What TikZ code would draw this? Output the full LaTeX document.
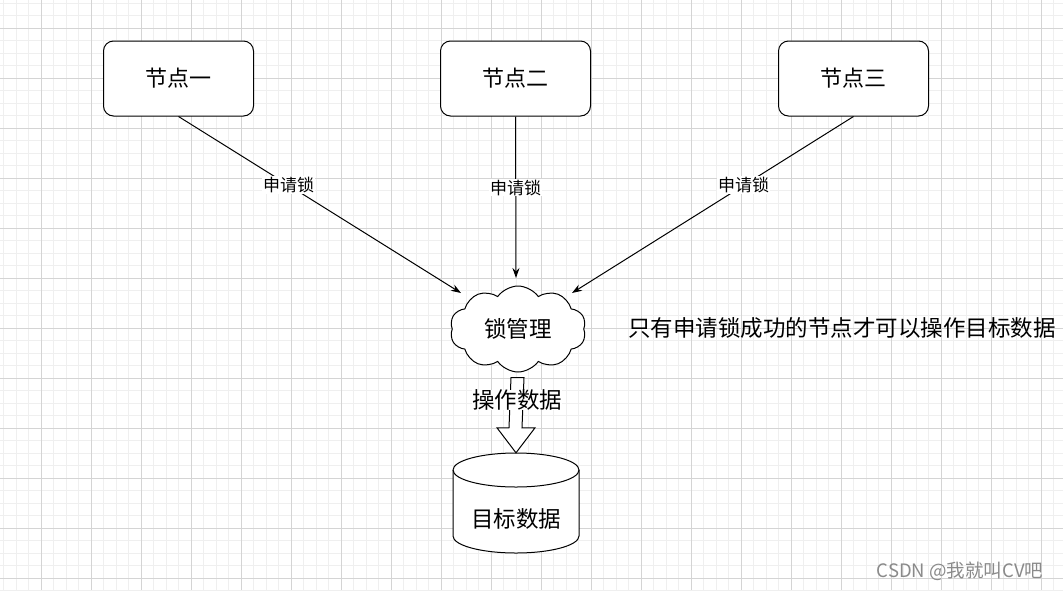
\documentclass[tikz,border=0pt]{standalone}
\usepackage{fontspec}
\setmainfont{Noto Sans CJK SC}
\usetikzlibrary{shapes.symbols,arrows.meta,calc}
\definecolor{gridminor}{HTML}{EFEFEF}
\definecolor{gridmajor}{HTML}{D4D4D4}
\definecolor{wm}{HTML}{8A8A8A}
\tikzset{
  nodebox/.style={draw=black,line width=1pt,rounded corners=10pt,fill=white,minimum width=150pt,minimum height=75pt,font=\fontsize{22}{26}\selectfont},
  conn/.style={draw=black,line width=1pt,-{Stealth[length=10pt,width=7pt]}},
  lbl/.style={fill=white,inner sep=1pt,font=\fontsize{17}{20}\selectfont},
  bigtxt/.style={font=\fontsize{22.5}{26}\selectfont},
}
\begin{document}
\begin{tikzpicture}[x=1pt,y=-1pt]
\useasboundingbox (0,0) rectangle (1063,590);
\fill[white] (0,0) rectangle (1063,590);
% grid
\foreach \i in {0,...,85} {
  \pgfmathsetmacro\xx{3.5+12.5*\i}
  \draw[gridminor,line width=0.5pt] (\xx,0) -- (\xx,590);
}
\foreach \i in {0,...,48} {
  \pgfmathsetmacro\yy{3+12.5*\i}
  \draw[gridminor,line width=0.5pt] (0,\yy) -- (1063,\yy);
}
\foreach \i in {0,...,21} {
  \pgfmathsetmacro\xx{41+50*\i}
  \draw[gridmajor,line width=0.6pt] (\xx,0) -- (\xx,590);
}
\foreach \i in {0,...,11} {
  \pgfmathsetmacro\yy{28+50*\i}
  \draw[gridmajor,line width=0.6pt] (0,\yy) -- (1063,\yy);
}
% nodes
\node[nodebox] (n1) at (178.5,78.5) {节点一};
\node[nodebox] (n2) at (515.5,78.5) {节点二};
\node[nodebox] (n3) at (853.5,78.5) {节点三};
\node[cloud,draw=black,line width=1pt,fill=white,cloud puffs=10,cloud puff arc=110,cloud ignores aspect,minimum width=136pt,minimum height=86pt,inner sep=0pt,bigtxt] (lock) at (518,329) {锁管理};
% database
\node[minimum width=126pt,minimum height=100pt,inner sep=0pt] (db) at (516,503) {};
\draw[line width=1pt,fill=white] (453,470) -- (453,536) arc[start angle=180,end angle=360,x radius=63pt,y radius=17pt] -- (579,470) arc[start angle=0,end angle=180,x radius=63pt,y radius=17pt] -- cycle;
\draw[line width=1pt] (453,470) arc[start angle=180,end angle=360,x radius=63pt,y radius=17pt];
\node[bigtxt] at (516,519) {目标数据};
% connectors
\coordinate (t1) at (461,293);
\coordinate (t2) at (516,278);
\coordinate (t3) at (572,293);
\draw[conn] (n1.south) -- (t1) node[pos=0.39,lbl] {申请锁};
\draw[conn] (n2.south) -- (t2) node[pos=0.44,lbl] {申请锁};
\draw[conn] (n3.south) -- (t3) node[pos=0.39,lbl] {申请锁};
% block arrow
\draw[line width=1pt,fill=white,line join=miter]
  ($(lock.south)+(-7,5)$) -- ($(lock.south)+(6,5)$) -- ($(db.north)+(6,-25)$) -- ($(db.north)+(19,-25)$) -- (db.north) -- ($(db.north)+(-19,-25)$) -- ($(db.north)+(-7,-25)$) -- cycle;
\node[lbl,bigtxt,inner sep=0pt] (op) at (517,400) {操作数据};
% side note
\node[bigtxt,anchor=west,inner sep=0pt] (note) at (628,328) {只有申请锁成功的节点才可以操作目标数据};
\node[text=wm,font=\fontsize{18.5}{21}\selectfont,inner sep=0pt] (wmk) at (960,571) {CSDN @我就叫CV吧};
\end{tikzpicture}
\end{document}
